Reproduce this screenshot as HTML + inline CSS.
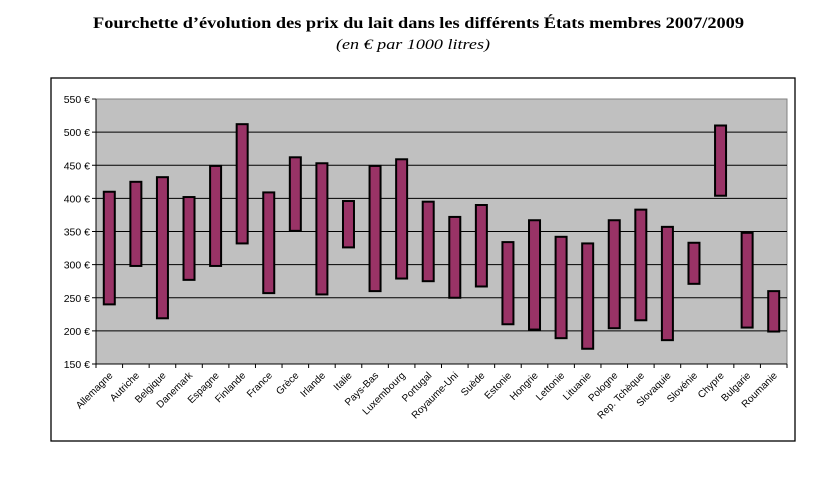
<!DOCTYPE html>
<html><head><meta charset="utf-8"><style>
body{margin:0;background:#fff;width:837px;height:493px;overflow:hidden;font-family:"Liberation Sans",sans-serif}
</style></head><body>
<svg width="837" height="493" xmlns="http://www.w3.org/2000/svg">
<text x="93" y="28" textLength="651" lengthAdjust="spacingAndGlyphs" font-family="Liberation Serif" font-weight="bold" font-size="15.5">Fourchette d’évolution des prix du lait dans les différents États membres 2007/2009</text>
<text x="336" y="49" textLength="154" lengthAdjust="spacingAndGlyphs" font-family="Liberation Serif" font-style="italic" font-size="15">(en € par 1000 litres)</text>
<rect x="51" y="78" width="744" height="363" fill="none" stroke="#000" stroke-width="1.3"/>
<rect x="96" y="99" width="691" height="265" fill="#c0c0c0" stroke="#808080"/>
<g id="g"></g>
</svg>
<script>
const categories=["Allemagne","Autriche","Belgique","Danemark","Espagne","Finlande","France","Grèce","Irlande","Italie","Pays-Bas","Luxembourg","Portugal","Royaume-Uni","Suède","Estonie","Hongrie","Lettonie","Lituanie","Pologne","Rep. Tchèque","Slovaquie","Slovénie","Chypre","Bulgarie","Roumanie"];
const highs=[410,425,432,402,449,512,409,462,453,396,449,459,395,372,390,334,367,342,332,367,383,357,333,510,348,260];
const lows=[240,298,219,277,298,332,257,351,255,326,260,279,275,250,267,210,202,189,173,204,216,186,271,404,205,199];
const ticks=[150,200,250,300,350,400,450,500,550];
const L=96,R=787,T=99,B=364,ymin=150,ymax=550;
const y=v=>B-(v-ymin)/(ymax-ymin)*(B-T);
const bw=(R-L)/categories.length;
const x=i=>L+bw*(i+0.5);
const g=document.getElementById('g');
const NS="http://www.w3.org/2000/svg";
function mk(t,a){const e=document.createElementNS(NS,t);for(const k in a)e.setAttribute(k,a[k]);g.appendChild(e);return e;}
ticks.forEach(t=>{
 if(t>ymin&&t<ymax){const l=mk('line',{x1:L,x2:R,y1:y(t),y2:y(t),stroke:'#000','stroke-width':1});
 
 }
 const tk=mk('line',{x1:L-4,x2:L,y1:y(t),y2:y(t),stroke:'#000'});
 
 
 const tx=mk('text',{x:L-6,y:y(t)+4,'text-anchor':'end','font-size':10.5,fill:'#000'});
 tx.textContent=t+' €';
 
 
});
const ax=mk('line',{x1:L,x2:L,y1:T,y2:B,stroke:'#000'});


const bx=mk('line',{x1:L,x2:R,y1:B,y2:B,stroke:'#000'});


for(let i=0;i<=categories.length;i++){
 const tk=mk('line',{x1:L+bw*i,x2:L+bw*i,y1:B,y2:B+4,stroke:'#000'});
 
 
}
categories.forEach((c,i)=>{
 const r=mk('rect',{x:x(i)-5.5,y:y(highs[i]),width:11,height:y(lows[i])-y(highs[i]),fill:'#993366',stroke:'#000','stroke-width':2});
 
 
 const tx=mk('text',{x:x(i)+4,y:B+12,'text-anchor':'end','font-size':10,transform:`rotate(-45 ${x(i)+4} ${B+12})`});
 tx.textContent=c;
 
 
});
</script>
</body></html>
